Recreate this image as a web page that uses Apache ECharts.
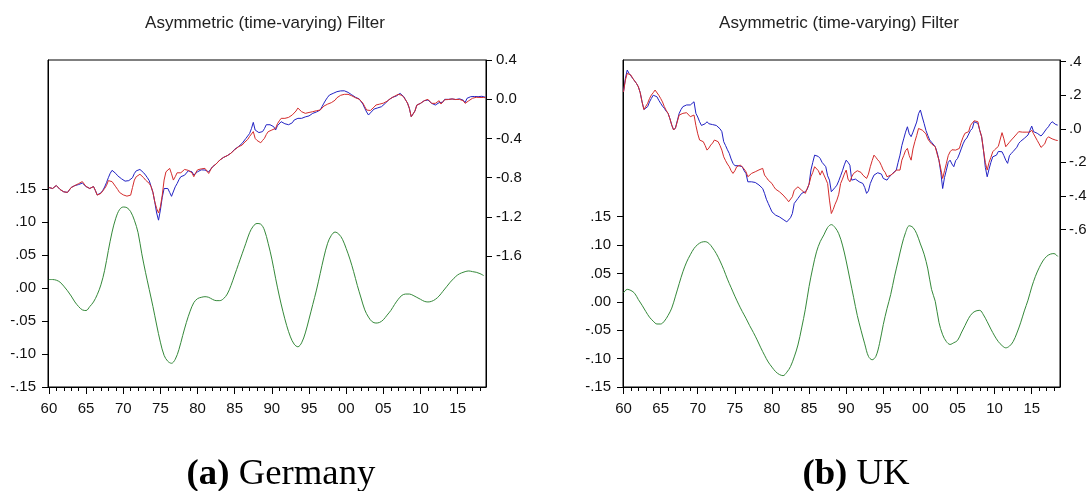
<!DOCTYPE html>
<html>
<head>
<meta charset="utf-8">
<script src="https://cdn.jsdelivr.net/npm/echarts@6/dist/echarts.min.js"></script>
<style>
  html, body { margin: 0; padding: 0; background: #fff; }
  #chart { width: 1092px; height: 491px; }
</style>
</head>
<body>
<div id="chart"></div>
<script>
// Time index: quarterly observations for the index/trend lines, half-yearly for the cycle.
const QUARTER_START = 1960;
const QUARTER_STEP = 0.25;
const HALF_START = 1960;
const HALF_STEP = 0.5;

// Axis tick values
const yearTicks = [1960, 1965, 1970, 1975, 1980, 1985, 1990, 1995, 2000, 2005, 2010, 2015];
const yearMinorTicks = [1960, 1961, 1962, 1963, 1964, 1965, 1966, 1967, 1968, 1969,
  1970, 1971, 1972, 1973, 1974, 1975, 1976, 1977, 1978, 1979,
  1980, 1981, 1982, 1983, 1984, 1985, 1986, 1987, 1988, 1989,
  1990, 1991, 1992, 1993, 1994, 1995, 1996, 1997, 1998, 1999,
  2000, 2001, 2002, 2003, 2004, 2005, 2006, 2007, 2008, 2009,
  2010, 2011, 2012, 2013, 2014, 2015, 2016, 2017, 2018];
const cycleTicks = [-0.15, -0.10, -0.05, 0, 0.05, 0.10, 0.15];
const deTrendTicks = [0.4, 0, -0.4, -0.8, -1.2, -1.6];
const ukTrendTicks = [0.4, 0.2, 0, -0.2, -0.4, -0.6];

// Germany, quarterly (right axis)
const deBlue = [
  -0.90, -0.90, -0.91, -0.89,  -0.88, -0.90, -0.92, -0.93,  -0.944, -0.94, -0.95, -0.93,
  -0.90, -0.89, -0.88, -0.875,  -0.87, -0.86, -0.855, -0.87,  -0.89, -0.905, -0.91, -0.90,
  -0.89, -0.93, -0.975, -0.97,  -0.955, -0.93, -0.895, -0.85,  -0.80, -0.755, -0.725, -0.73,
  -0.757, -0.78, -0.80, -0.81,  -0.82, -0.835, -0.84, -0.83,  -0.824, -0.80, -0.757, -0.73,
  -0.716, -0.716, -0.72, -0.75,  -0.773, -0.80, -0.83, -0.89,  -0.95, -1.05, -1.16, -1.233,
  -1.13, -1.00, -0.91, -0.89,  -0.91, -0.95, -0.99, -0.97,  -0.893, -0.86, -0.82, -0.79,
  -0.78, -0.775, -0.76, -0.73,  -0.722, -0.74, -0.773, -0.76,  -0.74, -0.722, -0.72, -0.725,
  -0.722, -0.73, -0.74, -0.72,  -0.69, -0.671, -0.66, -0.64,  -0.62, -0.61, -0.593, -0.58,
  -0.575, -0.569, -0.55, -0.53,  -0.51, -0.49, -0.484, -0.47,  -0.45, -0.43, -0.40, -0.39,
  -0.35, -0.30, -0.236, -0.314,  -0.33, -0.34, -0.348, -0.33,  -0.30, -0.26, -0.246, -0.26,
  -0.27, -0.28, -0.314, -0.27,  -0.25, -0.229, -0.235, -0.25,  -0.246, -0.26, -0.28, -0.24,
  -0.212, -0.20, -0.195, -0.195,  -0.195, -0.19, -0.18, -0.178,  -0.17, -0.155, -0.144, -0.14,
  -0.13, -0.127, -0.11, -0.076,  -0.04, -0.008, 0.02, 0.043,  0.05, 0.06, 0.065, 0.077,
  0.08, 0.085, 0.087, 0.086,  0.084, 0.07, 0.06, 0.045,  0.033, 0.02, 0.009, 0.003,
  -0.001, -0.05, -0.093, -0.13,  -0.161, -0.14, -0.12, -0.10,  -0.093, -0.088, -0.082, -0.076,
  -0.065, -0.042, -0.025, -0.005,  0.009, 0.02, 0.03, 0.033,  0.045, 0.06, 0.04, 0.026,
  -0.008, -0.04, -0.093, -0.178,  -0.15, -0.12, -0.06, -0.045,  -0.042, -0.03, -0.015, -0.01,
  -0.008, -0.025, -0.042, -0.05,  -0.059, -0.045, -0.035, -0.042,  -0.03, -0.001, -0.003, -0.001,
  -0.001, 0.003, 0.002, -0.003,  0.000, 0.004, -0.001, -0.01,  -0.035, 0.009, 0.02, 0.026,
  0.03, 0.028, 0.03, 0.026,  0.025, 0.03, 0.025, 0.02
];
const deRed = [
  -0.90, -0.90, -0.91, -0.89,  -0.88, -0.90, -0.92, -0.93,  -0.944, -0.945, -0.95, -0.93,
  -0.90, -0.89, -0.88, -0.87,  -0.86, -0.845, -0.84, -0.86,  -0.89, -0.905, -0.91, -0.90,
  -0.89, -0.93, -0.978, -0.975,  -0.96, -0.94, -0.91, -0.88,  -0.83, -0.824, -0.84, -0.858,
  -0.893, -0.92, -0.95, -0.961,  -0.975, -0.985, -0.988, -0.982,  -0.978, -0.90, -0.824, -0.79,
  -0.773, -0.765, -0.763, -0.80,  -0.824, -0.84, -0.858, -0.89,  -0.95, -1.046, -1.114, -1.16,
  -1.097, -0.98, -0.824, -0.74,  -0.74, -0.705, -0.76, -0.824,  -0.790, -0.75, -0.739, -0.75,
  -0.73, -0.716, -0.72, -0.725,  -0.729, -0.75, -0.790, -0.75,  -0.72, -0.716, -0.71, -0.705,
  -0.705, -0.72, -0.757, -0.72,  -0.69, -0.671, -0.66, -0.64,  -0.62, -0.61, -0.593, -0.585,
  -0.575, -0.569, -0.55, -0.535,  -0.515, -0.495, -0.485, -0.475,  -0.467, -0.445, -0.433, -0.41,
  -0.38, -0.365, -0.33, -0.399,  -0.42, -0.433, -0.444, -0.42,  -0.399, -0.36, -0.331, -0.32,
  -0.314, -0.30, -0.297, -0.25,  -0.22, -0.195, -0.20, -0.195,  -0.195, -0.185, -0.178, -0.16,
  -0.144, -0.12, -0.09, -0.076,  -0.127, -0.14, -0.144, -0.14,  -0.135, -0.13, -0.127, -0.12,
  -0.117, -0.117, -0.110, -0.09,  -0.07, -0.059, -0.05, -0.042,  -0.035, -0.025, -0.01, 0.015,
  0.026, 0.04, 0.053, 0.05,  0.053, 0.05, 0.045, 0.035,  0.026, 0.015, 0.009, 0.0,
  -0.008, -0.04, -0.076, -0.11,  -0.127, -0.115, -0.103, -0.08,  -0.059, -0.055, -0.05, -0.042,
  -0.04, -0.03, -0.02, -0.005,  0.009, 0.02, 0.03, 0.043,  0.05, 0.06, 0.04, 0.019,
  -0.008, -0.04, -0.093, -0.178,  -0.15, -0.12, -0.06, -0.045,  -0.042, -0.03, -0.015, -0.005,
  -0.001, -0.02, -0.042, -0.042,  -0.042, -0.03, -0.015, -0.049,  -0.035, -0.005, -0.001, -0.003,
  -0.001, 0.003, 0.002, -0.003,  0.0, -0.002, -0.004, -0.015,  -0.042, -0.025, -0.015, 0.0,
  0.01, 0.015, 0.02, 0.015,  0.018, 0.022, 0.018, 0.015
];
// Germany, half-yearly cycle (left axis)
const deCycle = [
  0.013, 0.013, 0.012, 0.009, 0.003, -0.004, -0.012, -0.021, -0.028, -0.033,
  -0.034, -0.028, -0.021, -0.010, 0.005, 0.027, 0.057, 0.085, 0.106, 0.119,
  0.123, 0.122, 0.116, 0.103, 0.084, 0.052, 0.024, -0.002, -0.028, -0.056,
  -0.082, -0.102, -0.111, -0.114, -0.108, -0.093, -0.072, -0.052, -0.035, -0.022,
  -0.016, -0.014, -0.013, -0.014, -0.017, -0.019, -0.019, -0.016, -0.009, 0.004,
  0.020, 0.036, 0.052, 0.068, 0.084, 0.094, 0.098, 0.097, 0.088, 0.068,
  0.044, 0.015, -0.012, -0.036, -0.057, -0.074, -0.085, -0.089, -0.083, -0.068,
  -0.047, -0.025, -0.003, 0.022, 0.047, 0.068, 0.080, 0.085, 0.082, 0.074,
  0.060, 0.044, 0.025, 0.004, -0.015, -0.033, -0.044, -0.051, -0.053, -0.052,
  -0.048, -0.041, -0.034, -0.025, -0.017, -0.011, -0.009, -0.009, -0.011, -0.014,
  -0.017, -0.020, -0.021, -0.020, -0.017, -0.012, -0.005, 0.002, 0.009, 0.015,
  0.020, 0.023, 0.025, 0.026, 0.025, 0.024, 0.022, 0.019
];

// UK, quarterly (right axis)
const ukBlue = [
  0.22, 0.30, 0.35, 0.33,  0.315, 0.30, 0.285, 0.27,  0.25, 0.215, 0.16, 0.115,
  0.12, 0.132, 0.16, 0.181,  0.20, 0.211, 0.191, 0.17,  0.152, 0.135, 0.122, 0.105,
  0.092, 0.06, 0.022, -0.007,  0.005, 0.012, 0.092, 0.115,  0.132, 0.138, 0.142, 0.14,
  0.142, 0.15, 0.161, 0.092,  0.07, 0.042, 0.02, 0.012,  0.03, 0.042, 0.03, 0.022,
  0.025, 0.032, 0.02, 0.012,  0.0, -0.017, -0.077, -0.10,  -0.125, -0.147, -0.18, -0.206,
  -0.22, -0.226, -0.22, -0.216,  -0.226, -0.25, -0.266, -0.316,  -0.316, -0.316, -0.318, -0.32,
  -0.322, -0.335, -0.346, -0.356,  -0.385, -0.42, -0.445, -0.47,  -0.495, -0.505, -0.515, -0.52,
  -0.525, -0.53, -0.54, -0.545,  -0.555, -0.565, -0.53, -0.505,  -0.445, -0.43, -0.415, -0.40,
  -0.385, -0.38, -0.375, -0.36,  -0.33, -0.246, -0.20, -0.157,  -0.157, -0.165, -0.177, -0.20,
  -0.206, -0.226, -0.28, -0.306,  -0.375, -0.366, -0.35, -0.336,  -0.31, -0.28, -0.25, -0.215,
  -0.187, -0.20, -0.217, -0.306,  -0.296, -0.30, -0.31, -0.316,  -0.32, -0.326, -0.35, -0.385,
  -0.37, -0.326, -0.30, -0.276,  -0.27, -0.262, -0.256, -0.27,  -0.296, -0.30, -0.306, -0.29,
  -0.28, -0.266, -0.255, -0.246,  -0.20, -0.157, -0.10, -0.06,  -0.02, 0.012, -0.03, -0.047,
  -0.02, -0.017, 0.04, 0.09,  0.112, 0.07, 0.032, -0.01,  -0.04, -0.067, -0.08, -0.09,
  -0.107, -0.14, -0.187, -0.26,  -0.356, -0.29, -0.246, -0.20,  -0.187, -0.21, -0.226, -0.19,
  -0.177, -0.15, -0.12, -0.09,  -0.067, -0.055, -0.047, -0.01,  0.002, 0.042, 0.04, 0.032,
  -0.01, -0.047, -0.127, -0.23,  -0.286, -0.24, -0.20, -0.167,  -0.16, -0.157, -0.135, -0.127,
  -0.137, -0.16, -0.187, -0.206,  -0.16, -0.147, -0.135, -0.127,  -0.11, -0.087, -0.075, -0.065,
  -0.057, -0.05, -0.037, -0.01,  0.016, -0.017, -0.022, -0.027,  -0.035, -0.043, -0.031, -0.02,
  0.0, 0.012, 0.03, 0.042,  0.035, 0.025, 0.022
];
const ukRed = [
  0.22, 0.29, 0.33, 0.325,  0.32, 0.30, 0.285, 0.27,  0.25, 0.215, 0.16, 0.115,
  0.125, 0.152, 0.18, 0.201,  0.215, 0.231, 0.221, 0.20,  0.181, 0.16, 0.132, 0.11,
  0.092, 0.06, 0.022, -0.007,  0.005, 0.012, 0.082, 0.088,  0.092, 0.094, 0.096, 0.085,
  0.072, 0.075, 0.082, 0.02,  -0.03, -0.067, -0.07, -0.077,  -0.10, -0.127, -0.115, -0.097,
  -0.085, -0.067, -0.07, -0.077,  -0.10, -0.127, -0.167, -0.19,  -0.21, -0.226, -0.25, -0.266,
  -0.25, -0.226, -0.22, -0.216,  -0.226, -0.24, -0.256, -0.286,  -0.28, -0.266, -0.26, -0.256,
  -0.256, -0.245, -0.236, -0.236,  -0.276, -0.29, -0.306, -0.316,  -0.326, -0.345, -0.36, -0.366,
  -0.375, -0.385, -0.395, -0.405,  -0.42, -0.435, -0.445, -0.405,  -0.366, -0.36, -0.346, -0.355,
  -0.366, -0.375, -0.385, -0.356,  -0.33, -0.286, -0.26, -0.226,  -0.226, -0.25, -0.276, -0.25,
  -0.246, -0.30, -0.326, -0.425,  -0.505, -0.481, -0.45, -0.425,  -0.39, -0.326, -0.30, -0.27,
  -0.246, -0.30, -0.316, -0.286,  -0.266, -0.26, -0.25, -0.246,  -0.26, -0.276, -0.285, -0.296,
  -0.27, -0.226, -0.19, -0.157,  -0.17, -0.185, -0.197, -0.22,  -0.246, -0.26, -0.286, -0.28,
  -0.276, -0.27, -0.26, -0.246,  -0.246, -0.246, -0.187, -0.16,  -0.13, -0.117, -0.16, -0.187,
  -0.12, -0.077, -0.04, 0.002,  0.0, -0.008, -0.008, -0.03,  -0.06, -0.077, -0.09, -0.097,
  -0.107, -0.15, -0.187, -0.24,  -0.296, -0.25, -0.206, -0.16,  -0.137, -0.125, -0.117, -0.127,
  -0.12, -0.117, -0.08, -0.05,  -0.027, -0.02, -0.017, 0.02,  0.035, 0.048, 0.046, 0.042,
  -0.01, -0.047, -0.127, -0.20,  -0.246, -0.20, -0.17, -0.137,  -0.125, -0.117, -0.105, -0.097,
  -0.023, -0.06, -0.107, -0.097,  -0.08, -0.067, -0.055, -0.047,  -0.03, -0.017, -0.018, -0.02,
  -0.017, -0.02, -0.027, -0.02,  -0.008, -0.03, -0.037, -0.07,  -0.09, -0.111, -0.103, -0.09,
  -0.06, -0.048, -0.05, -0.06,  -0.065, -0.068, -0.07
];
// UK, half-yearly cycle (left axis)
const ukCycle = [
  0.016, 0.022, 0.020, 0.015, 0.004, -0.006, -0.017, -0.027, -0.034, -0.039,
  -0.039, -0.034, -0.024, -0.011, 0.010, 0.032, 0.053, 0.070, 0.083, 0.094,
  0.101, 0.105, 0.106, 0.103, 0.095, 0.085, 0.072, 0.057, 0.040, 0.025,
  0.010, -0.004, -0.017, -0.029, -0.042, -0.054, -0.067, -0.081, -0.094, -0.106,
  -0.115, -0.123, -0.128, -0.130, -0.124, -0.114, -0.097, -0.076, -0.046, -0.013,
  0.027, 0.060, 0.088, 0.106, 0.118, 0.131, 0.136, 0.131, 0.120, 0.100,
  0.072, 0.040, 0.008, -0.024, -0.050, -0.074, -0.096, -0.102, -0.096, -0.073,
  -0.040, -0.012, 0.013, 0.044, 0.072, 0.100, 0.122, 0.134, 0.131, 0.120,
  0.102, 0.084, 0.058, 0.022, 0.001, -0.036, -0.058, -0.070, -0.075, -0.072,
  -0.068, -0.055, -0.042, -0.029, -0.020, -0.016, -0.015, -0.023, -0.035, -0.048,
  -0.060, -0.070, -0.077, -0.081, -0.078, -0.070, -0.055, -0.037, -0.016, 0.003,
  0.026, 0.045, 0.060, 0.072, 0.080, 0.084, 0.085, 0.080
];

const BLUE = '#2222c4';
const RED = '#d42c2c';
const GREEN = '#35893a';
const INK = '#111';
const SANS = '"Liberation Sans", Arial, sans-serif';
const SERIF = '"Liberation Serif", "Times New Roman", serif';
const TICK_FONT = 15;
const CAPTION_FONT = 35;
const CAPTION_STRETCH = 1.05;

function toPairs(values, start, step) {
  return values.map((v, i) => [start + i * step, v]);
}

function fmtYear(v) { return String(Math.round(v) % 100).padStart(2, '0'); }
function fmtDot(digits) {
  return v => (v < -1e-9 ? '-' : '') + Math.abs(v).toFixed(digits).replace(/^0/, '');
}
function fmtTrendDE(v) { return (Math.abs(v) < 1e-9 ? 0 : v).toFixed(1); }

function xMain(gridIndex, min, max) {
  return {
    type: 'value', gridIndex, min, max, position: 'bottom',
    axisLine: { show: true, onZero: false, lineStyle: { color: '#000', width: 1 } },
    axisTick: { show: true, customValues: yearTicks, length: 7, lineStyle: { color: '#000' } },
    axisLabel: { customValues: yearTicks, formatter: fmtYear, margin: 14, color: INK, fontSize: TICK_FONT, fontFamily: SANS },
    splitLine: { show: false }
  };
}
function xMinor(gridIndex, min, max) {
  return {
    type: 'value', gridIndex, min, max, position: 'bottom',
    axisLine: { show: false, onZero: false },
    axisTick: { show: true, customValues: yearMinorTicks, length: 4, lineStyle: { color: '#000' } },
    axisLabel: { show: false },
    splitLine: { show: false }
  };
}
function yAxis(gridIndex, position, min, max, ticks, formatter, margin) {
  return {
    type: 'value', gridIndex, position, min, max,
    axisLine: { show: true, onZero: false, lineStyle: { color: '#000', width: 1 } },
    axisTick: { show: true, customValues: ticks, length: 6, lineStyle: { color: '#000' } },
    axisLabel: { customValues: ticks, formatter, margin, color: INK, fontSize: TICK_FONT, fontFamily: SANS },
    splitLine: { show: false }
  };
}
function line(xAxisIndex, yAxisIndex, data, color, smooth) {
  return {
    type: 'line', xAxisIndex, yAxisIndex, data, smooth: smooth || false,
    symbol: 'none', showSymbol: false,
    lineStyle: { color, width: 1 }, itemStyle: { color },
    emphasis: { disabled: true }
  };
}
// Panel caption below each chart
function caption(x, tag, name) {
  return {
    type: 'text', x, y: 475, scaleX: CAPTION_STRETCH, silent: true,
    style: {
      text: '{b|' + tag + '}{n| ' + name + '}', fill: '#000',
      font: CAPTION_FONT + 'px ' + SERIF,
      align: 'center', verticalAlign: 'middle', textAlign: 'center', textVerticalAlign: 'middle',
      rich: {
        b: { fontFamily: SERIF, fontSize: CAPTION_FONT, fontWeight: 'bold', fill: '#000' },
        n: { fontFamily: SERIF, fontSize: CAPTION_FONT, fill: '#000' }
      }
    }
  };
}
function heading(x) {
  return {
    type: 'text', x, y: 23, silent: true,
    style: { text: 'Asymmetric (time-varying) Filter', font: '17px ' + SANS, fill: '#222',
             align: 'center', verticalAlign: 'middle', textAlign: 'center', textVerticalAlign: 'middle' }
  };
}

const chart = echarts.init(document.getElementById('chart'), null, { renderer: 'canvas' });
chart.setOption({
  animation: false,
  backgroundColor: '#fff',
  grid: [
    { left: 48, top: 60, width: 438, height: 327, show: true, borderColor: '#000', borderWidth: 1 },
    { left: 623, top: 60, width: 437, height: 327, show: true, borderColor: '#000', borderWidth: 1 }
  ],
  xAxis: [
    xMain(0, 1959.88, 2018.81),
    xMinor(0, 1959.88, 2018.81),
    xMain(1, 1959.93, 2018.81),
    xMinor(1, 1959.93, 2018.81)
  ],
  yAxis: [
    yAxis(0, 'left', -0.15, 0.346, cycleTicks, fmtDot(2), 12),
    yAxis(0, 'right', -2.934, 0.4, deTrendTicks, fmtTrendDE, 10),
    yAxis(1, 'left', -0.15, 0.426, cycleTicks, fmtDot(2), 12),
    yAxis(1, 'right', -1.539, 0.41, ukTrendTicks, fmtDot(1), 9)
  ],
  series: [
    line(0, 0, toPairs(deCycle, HALF_START, HALF_STEP), GREEN, 0.35),
    line(0, 1, toPairs(deBlue, QUARTER_START, QUARTER_STEP), BLUE),
    line(0, 1, toPairs(deRed, QUARTER_START, QUARTER_STEP), RED),
    line(2, 2, toPairs(ukCycle, HALF_START, HALF_STEP), GREEN, 0.35),
    line(2, 3, toPairs(ukBlue, QUARTER_START, QUARTER_STEP), BLUE),
    line(2, 3, toPairs(ukRed, QUARTER_START, QUARTER_STEP), RED)
  ],
  graphic: [
    heading(265),
    heading(839),
    caption(281, '(a)', 'Germany'),
    caption(856, '(b)', 'UK')
  ]
});
</script>
</body>
</html>
